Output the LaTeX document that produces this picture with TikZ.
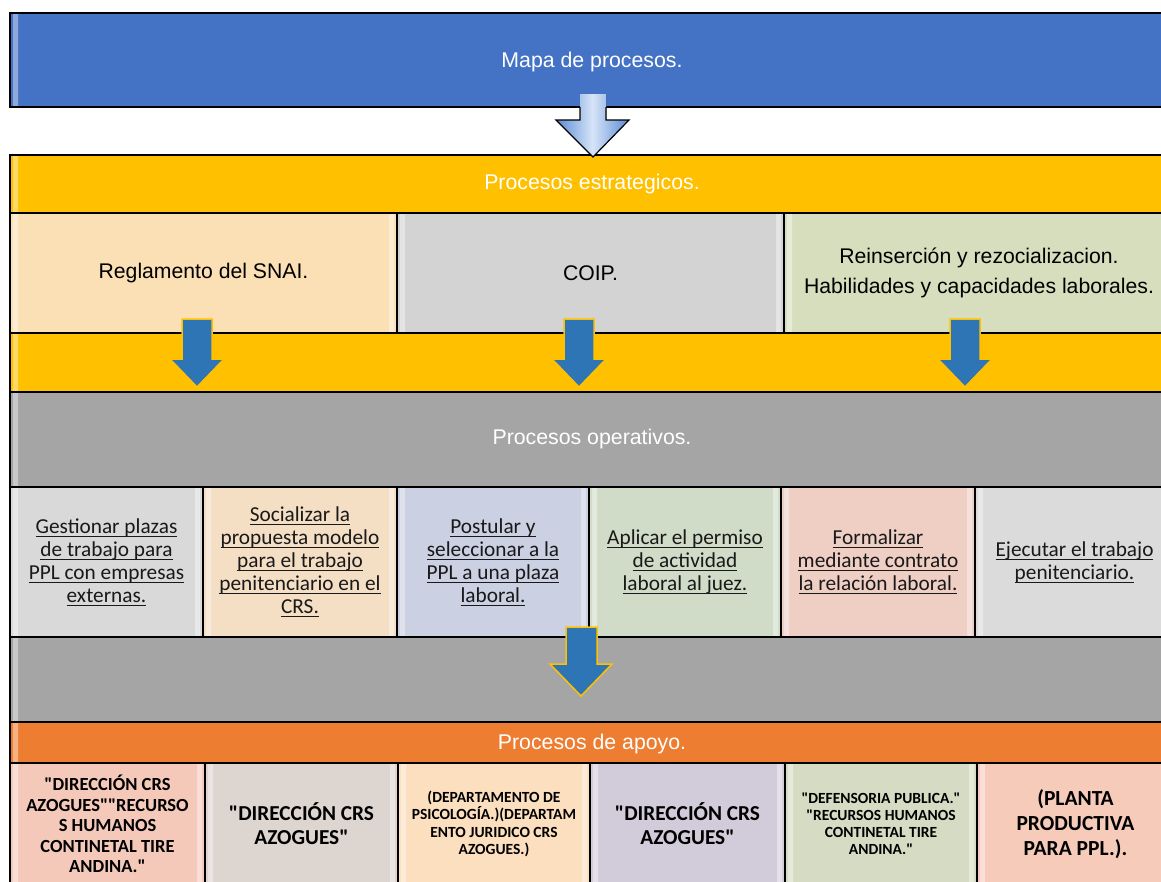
\documentclass[tikz,border=0pt]{standalone}
\usepackage{fontspec}
\setmainfont{Carlito}[Ligatures=TeXOff]
\newfontfamily\arialfont{Liberation Sans}
\usetikzlibrary{calc}

\definecolor{mapblue}{HTML}{4472C4}
\definecolor{estyellow}{HTML}{FFC000}
\definecolor{opgrey}{HTML}{A5A5A5}
\definecolor{apoyoorange}{HTML}{ED7D31}
\definecolor{arrblue}{HTML}{2E75B6}
\definecolor{arrgold}{HTML}{FFC000}

% underlined line of text
\newcommand\ulin[1]{\setbox0\hbox{#1}\rlap{\rule[-3.5pt]{\wd0}{1pt}}\box0}

\tikzset{every picture/.style={line width=1.2pt}}
\tikzset{
  bevel/.style={path picture={
    \fill[white,opacity=.4] ($(path picture bounding box.north west)+(3,5)$) -- ($(path picture bounding box.north west)+(8,12)$) -- ($(path picture bounding box.south west)+(8,-12)$) -- ($(path picture bounding box.south west)+(3,-5)$) -- cycle;
    \fill[white,opacity=.4] ($(path picture bounding box.north east)+(-3,5)$) -- ($(path picture bounding box.north east)+(-8,12)$) -- ($(path picture bounding box.south east)+(-8,-12)$) -- ($(path picture bounding box.south east)+(-3,-5)$) -- cycle;
  }},
}

\begin{document}
\begin{tikzpicture}[x=1pt,y=1pt,yscale=-1,xscale=1,
  section/.style={draw=black, minimum width=1164, inner sep=0pt, outer sep=0pt, bevel},
  headtxt/.style={text=white, font=\arialfont\fontsize{21.3}{25}\selectfont},
  strbox/.style={draw=black, minimum height=120, inner sep=0pt, align=center, bevel, font=\arialfont\fontsize{21.2}{30}\selectfont},
  opbox/.style={draw=black, minimum height=150, inner sep=0pt, align=center, bevel, text=black!90, font=\fontsize{21.3}{23}\selectfont},
  apbox/.style={draw=black, minimum height=122, inner sep=0pt, align=center, bevel, font=\bfseries},
  blockarr/.style={fill=arrblue, draw=arrgold, line width=1.5pt, line join=miter},
]
\useasboundingbox (0,0) rectangle (1161,881);

%Banner: Mapa de procesos
\node[section, fill=mapblue, minimum height=94] (mapa) at (592,60) {};
\node[headtxt] (mapatit) at (592,62) {Mapa de procesos.};

%Section: procesos estrategicos
\node[section, fill=estyellow, minimum height=237] (estr) at (592,273.5) {};
\node[headtxt] (estrtit) at (592,184) {Procesos estrategicos.};
\node[strbox, fill={rgb,255:red,251;green,224;blue,181}, minimum width=387] (snai) at (203.5,273) {Reglamento del SNAI.};
\node[strbox, fill={rgb,255:red,211;green,211;blue,211}, minimum width=387] (coip) at (590.5,273) {COIP.};
\node[strbox, fill={rgb,255:red,215;green,222;blue,189}, minimum width=390] (reins) at (979,273) {Reinserción y rezocializacion.\\Habilidades y capacidades laborales.};

%Section: procesos operativos
\node[section, fill=opgrey, minimum height=330] (oper) at (592,557) {};
\node[headtxt] (opertit) at (592,439) {Procesos operativos.};
\node[opbox, fill={rgb,255:red,217;green,217;blue,217}, minimum width=193] (gest) at (106.5,562) {\ulin{Gestionar plazas}\\\ulin{de trabajo para}\\\ulin{PPL con empresas}\\\ulin{externas.}};
\node[opbox, fill={rgb,255:red,244;green,223;blue,197}, minimum width=194] (social) at (300,562) {\ulin{Socializar la}\\\ulin{propuesta modelo}\\\ulin{para el trabajo}\\\ulin{penitenciario en el}\\\ulin{CRS.}};
\node[opbox, fill={rgb,255:red,203;green,208;blue,226}, minimum width=192] (postul) at (493,562) {\ulin{Postular y}\\\ulin{seleccionar a la}\\\ulin{PPL a una plaza}\\\ulin{laboral.}};
\node[opbox, fill={rgb,255:red,208;green,220;blue,200}, minimum width=192] (permiso) at (685,562) {\ulin{Aplicar el permiso}\\\ulin{de actividad}\\\ulin{laboral al juez.}};
\node[opbox, fill={rgb,255:red,239;green,206;blue,196}, minimum width=194] (formal) at (878,562) {\ulin{Formalizar}\\\ulin{mediante contrato}\\\ulin{la relación laboral.}};
\node[opbox, fill={rgb,255:red,219;green,219;blue,219}, minimum width=199] (ejec) at (1074.5,562) {\ulin{Ejecutar el trabajo}\\\ulin{penitenciario.}};

%Section: procesos de apoyo
\node[section, fill=apoyoorange, minimum height=178] (apoyo) at (592,811) {};
\node[headtxt] (apoyotit) at (592,744) {Procesos de apoyo.};
\node[apbox, fill={rgb,255:red,244;green,201;blue,186}, minimum width=195, font=\bfseries\fontsize{18.5}{20.5}\selectfont] (dir1) at (107.5,824) {"DIRECCIÓN CRS\\AZOGUES""RECURSO\\S HUMANOS\\CONTINETAL TIRE\\ANDINA."};
\node[apbox, fill={rgb,255:red,221;green,213;blue,208}, minimum width=193, font=\bfseries\fontsize{21.3}{24}\selectfont] (dir2) at (301.5,824) {"DIRECCIÓN CRS\\AZOGUES"};
\node[apbox, fill={rgb,255:red,251;green,223;blue,190}, minimum width=192, font=\bfseries\fontsize{15.5}{17.5}\selectfont] (depto) at (494,824) {(DEPARTAMENTO DE\\PSICOLOGÍA.)(DEPARTAM\\ENTO JURIDICO CRS\\AZOGUES.)};
\node[apbox, fill={rgb,255:red,210;green,204;blue,218}, minimum width=195, font=\bfseries\fontsize{21.3}{24}\selectfont] (dir3) at (687.5,824) {"DIRECCIÓN CRS\\AZOGUES"};
\node[apbox, fill={rgb,255:red,214;green,220;blue,196}, minimum width=192, font=\bfseries\fontsize{15.5}{17}\selectfont] (defens) at (881,824) {"DEFENSORIA PUBLICA."\\"RECURSOS HUMANOS\\CONTINETAL TIRE\\ANDINA."};
\node[apbox, fill={rgb,255:red,246;green,203;blue,185}, minimum width=197, font=\bfseries\fontsize{21.5}{25}\selectfont] (planta) at (1075.5,824) {(PLANTA\\PRODUCTIVA\\PARA PPL.).};

%Big Arrow
\fill[left color={rgb,255:red,91;green,139;blue,214}, right color={rgb,255:red,91;green,139;blue,214}, middle color={rgb,255:red,214;green,228;blue,247}] (580,94) -- (606,94) -- (606,120) -- (629,120) -- (593,157) -- (556,120) -- (580,120) -- cycle;
\draw[line join=miter] (580,107) -- (580,120) -- (556,120) -- (593,157) -- (629,120) -- (606,120) -- (606,107);

%Down Arrows
\draw[blockarr] (182,319) -- (212,319) -- (212,359) -- (224,359) -- (197,387) -- (170,359) -- (182,359) -- cycle;
\draw[blockarr] (564,319) -- (594,319) -- (594,359) -- (606,359) -- (579,387) -- (552,359) -- (564,359) -- cycle;
\draw[blockarr] (950,319) -- (980,319) -- (980,359) -- (992,359) -- (965,387) -- (938,359) -- (950,359) -- cycle;
\draw[blockarr] (566,627) -- (597,627) -- (597,664) -- (612,664) -- (581,696) -- (550,664) -- (566,664) -- cycle;

\end{tikzpicture}
\end{document}
